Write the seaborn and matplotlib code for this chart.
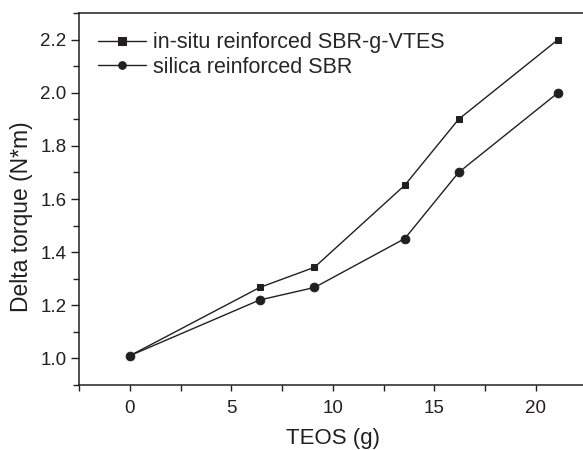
import pandas as pd
import matplotlib.pyplot as plt
import seaborn as sns
from matplotlib.ticker import MultipleLocator

# === DATOS ===
teos = [0, 6.4, 9.1, 13.55, 16.2, 21.1]
torque_insitu = [1.01, 1.267, 1.343, 1.652, 1.90, 2.20]
torque_silica = [1.01, 1.22, 1.267, 1.451, 1.70, 2.00]
series = ['in-situ reinforced SBR-g-VTES', 'silica reinforced SBR']

df = pd.DataFrame({
    'TEOS': teos + teos,
    'torque': torque_insitu + torque_silica,
    'serie': [series[0]] * len(teos) + [series[1]] * len(teos),
})

# === ESTILO ===
sns.set_style("ticks")
plt.rcParams['font.family'] = ['Liberation Sans', 'DejaVu Sans']
color = '#231f20'

fig = plt.figure(figsize=(5.83, 4.5), dpi=100)
ax = fig.add_axes([79 / 583, 65 / 450, 507.5 / 583, 372 / 450])

sns.lineplot(data=df, x='TEOS', y='torque', hue='serie', style='serie',
             markers={series[0]: 's', series[1]: 'o'}, dashes=False,
             palette=[color, color], linewidth=1.0,
             markeredgecolor=color, ax=ax)

# marcadores: cuadrado un poco mas pequeno que el circulo
for ln in ax.lines:
    if ln.get_marker() == 's':
        ln.set_markersize(5)
    elif ln.get_marker() == 'o':
        ln.set_markersize(6.2)

ax.set_xlim(-2.5, 22.5)
ax.set_ylim(0.9, 2.3)
ax.xaxis.set_major_locator(MultipleLocator(5))
ax.xaxis.set_minor_locator(MultipleLocator(2.5))
ax.yaxis.set_major_locator(MultipleLocator(0.2))
ax.yaxis.set_minor_locator(MultipleLocator(0.1))
ax.tick_params(which='both', direction='out', length=4, width=1, color=color,
               labelsize=13.5, labelcolor=color, top=False, right=False)
ax.tick_params(axis='x', which='major', pad=7)
ax.tick_params(axis='y', which='major', length=6, pad=3)
for s in ax.spines.values():
    s.set_color(color)
    s.set_linewidth(1.1)

ax.set_xlabel('TEOS (g)', fontsize=16, color=color, labelpad=8)
ax.set_ylabel('Delta torque (N*m)', fontsize=16.5, color=color)
ax.yaxis.set_label_coords(-0.09, 0.452)

leg = ax.legend(loc='upper left', frameon=False, fontsize=15.5, handlelength=2.2,
                handletextpad=0.35, labelspacing=0.15, borderaxespad=0.5,
                bbox_to_anchor=(0.0, 1.0))
for h in leg.legend_handles:
    h.set_markersize(5.5)

fig.savefig('out.png', dpi=100)
